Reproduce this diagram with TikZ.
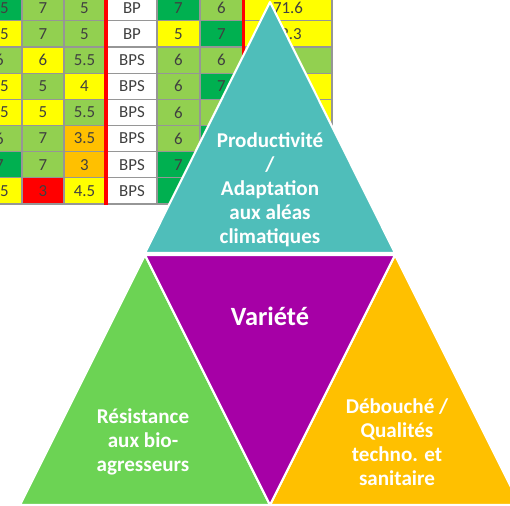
\documentclass[tikz,border=0pt]{standalone}
\usepackage{tikz}
\usepackage{fontspec}
\setmainfont{Carlito}
\tikzstyle{sheet} = [x = .02cm, y = -.02cm]
\definecolor{cellYellow}{RGB}{255,255,0}
\definecolor{cellLightGreen}{RGB}{146,208,80}
\definecolor{cellDarkGreen}{RGB}{0,176,80}
\definecolor{cellOrange}{RGB}{255,192,0}
\definecolor{cellRed}{RGB}{255,0,0}
\definecolor{cellWhite}{RGB}{255,255,255}
\definecolor{numberGrey}{RGB}{64,64,64}
\definecolor{gridGrey}{RGB}{150,150,150}
\definecolor{topTeal}{RGB}{79,190,186}
\definecolor{midPurple}{RGB}{166,0,166}
\definecolor{leftGreen}{RGB}{108,211,84}
\definecolor{rightOrange}{RGB}{255,192,0}
\tikzstyle{cellStyle} = [draw=gridGrey, line width=.7pt]
\tikzstyle{cellText} = [text=numberGrey, font=\fontsize{9.6}{10}\selectfont, inner sep=0pt]
\tikzstyle{redRule} = [color=cellRed, line width=2pt]
\tikzstyle{faceStyle} = [draw=white, line width=1.2pt, line join=round]
\tikzstyle{faceText} = [text=white, font=\bfseries\fontsize{12}{13.6}\selectfont, align=center]
\newcommand{\rowHeight}{26.15}
\newcommand{\tableCell}[6]{
  \pgfmathsetmacro{\cellTop}{-5.3 + \rowHeight * (#1 - 1)}
  \pgfmathsetmacro{\cellBottom}{\cellTop + \rowHeight}
  \filldraw [cellStyle, fill=#5] (#3, \cellTop) rectangle (#4, \cellBottom) node [cellText, midway] (cell-#1-#2) {#6};
}
\newcommand{\edgeText}[4]{
  \pgfmathsetmacro{\cellMid}{-5.3 + \rowHeight * (#1 - .5)}
  \node [cellText, anchor=east] (edge-#1-#2) at (#3, \cellMid) {#4};
}
\newcommand{\tableColumn}[4]{
  \foreach \row/\colour/\val in {#4} {
    \tableCell{\row}{#1}{#2}{#3}{\colour}{\val}
  }
}
\newcommand{\face}[4]{\filldraw [faceStyle, fill=#1] #2 -- #3 -- #4 -- cycle;}

\begin{document}
\begin{tikzpicture}[sheet]
  \useasboundingbox (0,0) rectangle (510,505);
  \clip (0,0) rectangle (510,505);

  % score sheet behind the pyramid
  \tableColumn{1}{-22}{22}{1/cellDarkGreen/, 2/cellYellow/, 3/cellLightGreen/, 4/cellYellow/, 5/cellYellow/, 6/cellLightGreen/, 7/cellDarkGreen/, 8/cellYellow/}
  \tableColumn{2}{22}{64}{1/cellLightGreen/7, 2/cellLightGreen/7, 3/cellYellow/6, 4/cellLightGreen/5, 5/cellYellow/5, 6/cellLightGreen/7, 7/cellLightGreen/7, 8/cellRed/3}
  \tableColumn{3}{64}{105}{1/cellLightGreen/5, 2/cellLightGreen/5, 3/cellLightGreen/5.5, 4/cellYellow/4, 5/cellLightGreen/5.5, 6/cellOrange/3.5, 7/cellOrange/3, 8/cellYellow/4.5}
  \tableColumn{4}{107}{157}{1/cellWhite/BP, 2/cellWhite/BP, 3/cellWhite/BPS, 4/cellWhite/BPS, 5/cellWhite/BPS, 6/cellWhite/BPS, 7/cellWhite/BPS, 8/cellWhite/BPS}
  \tableColumn{5}{157}{200}{1/cellDarkGreen/7, 2/cellYellow/5, 3/cellLightGreen/6, 4/cellLightGreen/6, 5/cellLightGreen/6, 6/cellLightGreen/6, 7/cellDarkGreen/7, 8/cellDarkGreen/}
  \tableColumn{6}{200}{243}{1/cellLightGreen/6, 2/cellDarkGreen/7, 3/cellLightGreen/6, 4/cellDarkGreen/7, 5/cellLightGreen/, 6/cellDarkGreen/, 7/cellLightGreen/, 8/cellLightGreen/}
  \tableColumn{7}{244}{332}{1/cellYellow/71.6, 2/cellYellow/, 3/cellLightGreen/, 4/cellYellow/, 5/cellYellow/, 6/cellYellow/, 7/cellYellow/, 8/cellYellow/}
  \foreach \row/\xpos/\val in {1/9/.5, 2/9/.5, 3/4/6, 4/9/.5, 5/9/.5, 6/4/6, 7/4/7, 8/9/.5} {
    \edgeText{\row}{1}{\xpos}{\val}
  }
  \edgeText{2}{7}{302}{2.3}
  \draw [redRule] (106.2,-10) -- (106.2,205);
  \draw [redRule] (243.5,-10) -- (243.5,205);

  % pyramid
  \face{leftGreen}{(145,255)}{(20,505)}{(270,505)}
  \face{rightOrange}{(395,255)}{(270,505)}{(520,505)}
  \face{midPurple}{(145,255)}{(395,255)}{(270,505)}
  \face{topTeal}{(270,2)}{(145,253)}{(395,253)}

  \node [faceText] (productivite) at (270,190) {Productivité\\/\\Adaptation\\aux aléas\\climatiques};
  \node [faceText, font=\bfseries\fontsize{15}{18}\selectfont] (variete) at (270,316) {Variété};
  \node [faceText] (resistance) at (143,442) {Résistance\\aux bio-\\agresseurs};
  \node [faceText] (debouche) at (397,442) {Débouché /\\Qualités\\techno. et\\sanitaire};
\end{tikzpicture}
\end{document}
